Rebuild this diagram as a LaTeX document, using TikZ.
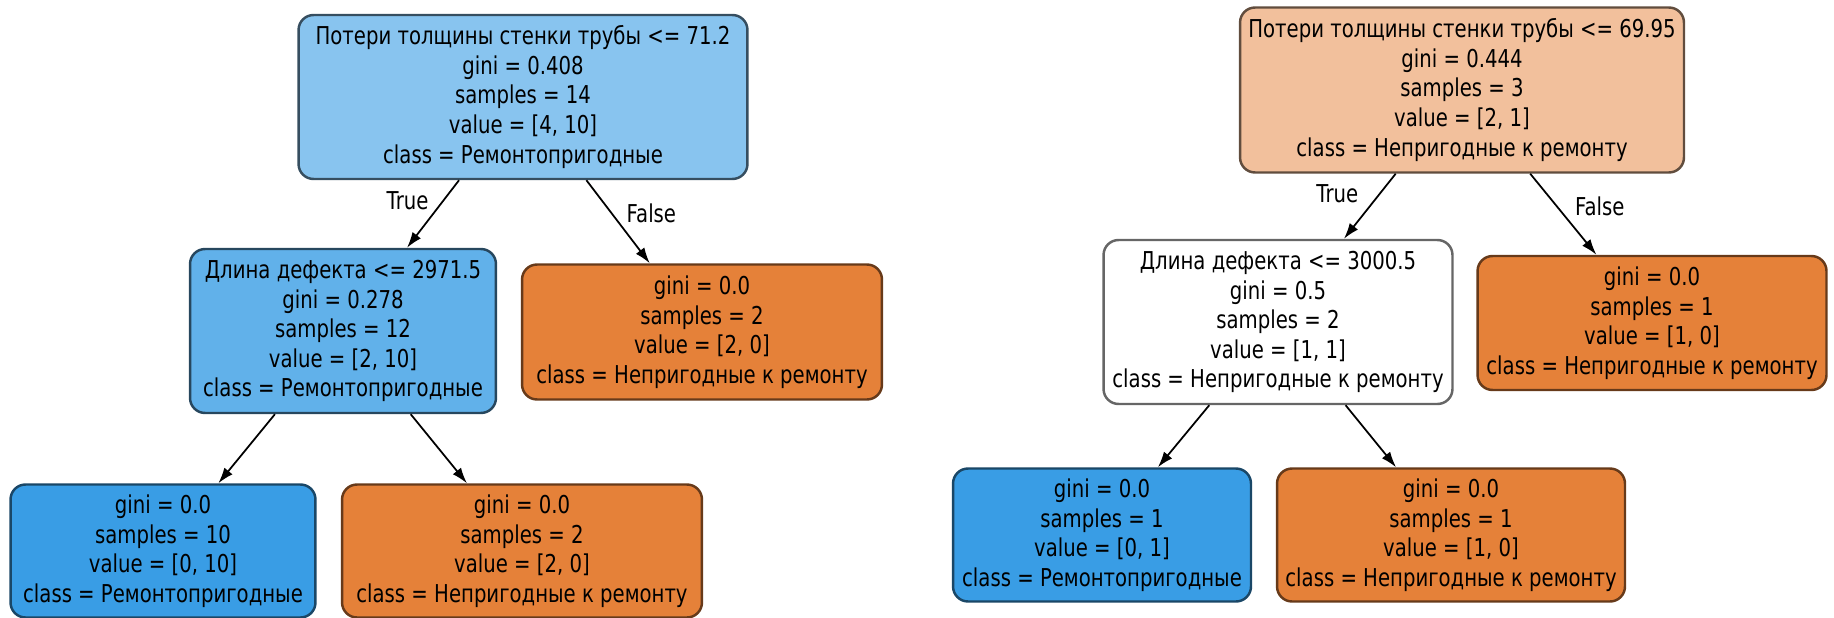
\documentclass[tikz,border=0pt]{standalone}
\usepackage{fontspec}
\setmainfont{DejaVu Sans}[FakeStretch=0.8]
\usetikzlibrary{shapes.geometric, arrows.meta}

\definecolor{leafblue}{HTML}{399DE5}
\definecolor{midblue}{HTML}{61B1EA}
\definecolor{rootblue}{HTML}{88C4EF}
\definecolor{leaforange}{HTML}{E58139}
\definecolor{rootorange}{HTML}{F2C09C}

\tikzstyle{box} = [
    rectangle,
    rounded corners=0.3cm,
    line width=1.4pt,
    align=center,
    inner sep=0pt,
    font=\fontsize{14pt}{16.8pt}\selectfont
]
\tikzstyle{split} = [
    box,
    minimum height=3.28cm
]
\tikzstyle{leaf} = [
    box,
    minimum height=2.66cm
]
\tikzstyle{bluetint} = [fill=leafblue, draw=leafblue!45!black]
\tikzstyle{midtint} = [fill=midblue, draw=midblue!40!black]
\tikzstyle{roottint} = [fill=rootblue, draw=rootblue!40!black]
\tikzstyle{orangetint} = [fill=leaforange, draw=leaforange!45!black]
\tikzstyle{peachtint} = [fill=rootorange, draw=rootorange!40!black]
\tikzstyle{whitetint} = [fill=white, draw=black!60]
\tikzstyle{edgelabel} = [font=\fontsize{14pt}{16.8pt}\selectfont, inner sep=2pt]
\tikzstyle{arrow} = [line width=1pt,-{Latex[length=9pt,width=6pt]}]

\begin{document}
\begin{tikzpicture}[x=0.02cm, y=-0.02cm]
\useasboundingbox (0,0) rectangle (1834,618);

% first tree
\node (lroot) [split, roottint, minimum width=8.98cm] at (523,97)
{Потери толщины стенки трубы <= 71.2\\gini = 0.408\\samples = 14\\value = [4, 10]\\class = Ремонтопригодные};

\node (lmid) [split, midtint, minimum width=6.12cm] at (343,331)
{Длина дефекта <= 2971.5\\gini = 0.278\\samples = 12\\value = [2, 10]\\class = Ремонтопригодные};

\node (lfalse) [leaf, orangetint, minimum width=7.2cm, minimum height=2.7cm] at (702,332)
{gini = 0.0\\samples = 2\\value = [2, 0]\\class = Непригодные к ремонту};

\node (lleafa) [leaf, bluetint, minimum width=6.1cm] at (163,551)
{gini = 0.0\\samples = 10\\value = [0, 10]\\class = Ремонтопригодные};

\node (lleafb) [leaf, orangetint, minimum width=7.2cm] at (522,551)
{gini = 0.0\\samples = 2\\value = [2, 0]\\class = Непригодные к ремонту};

\draw [arrow] (lroot) -- (lmid) node (ltrue) [edgelabel, pos=0.3, left=6pt] {True};
\draw [arrow] (lroot) -- (lfalse) node (lfalsetxt) [edgelabel, pos=0.4, right=6pt] {False};
\draw [arrow] (lmid) -- (lleafa);
\draw [arrow] (lmid) -- (lleafb);

% second tree
\node (rroot) [split, peachtint, minimum width=8.88cm, minimum height=3.3cm] at (1462,90)
{Потери толщины стенки трубы <= 69.95\\gini = 0.444\\samples = 3\\value = [2, 1]\\class = Непригодные к ремонту};

\node (rmid) [split, whitetint, minimum width=6.98cm] at (1278,322)
{Длина дефекта <= 3000.5\\gini = 0.5\\samples = 2\\value = [1, 1]\\class = Непригодные к ремонту};

\node (rfalse) [leaf, orangetint, minimum width=6.98cm, minimum height=2.68cm] at (1652,323)
{gini = 0.0\\samples = 1\\value = [1, 0]\\class = Непригодные к ремонту};

\node (rleafa) [leaf, bluetint, minimum width=5.96cm] at (1102,535)
{gini = 0.0\\samples = 1\\value = [0, 1]\\class = Ремонтопригодные};

\node (rleafb) [leaf, orangetint, minimum width=6.96cm] at (1451,535)
{gini = 0.0\\samples = 1\\value = [1, 0]\\class = Непригодные к ремонту};

\draw [arrow] (rroot) -- (rmid) node (rtrue) [edgelabel, pos=0.3, left=10pt] {True};
\draw [arrow] (rroot) -- (rfalse) node (rfalsetxt) [edgelabel, pos=0.4, right=8pt] {False};
\draw [arrow] (rmid) -- (rleafa);
\draw [arrow] (rmid) -- (rleafb);

\end{tikzpicture}
\end{document}
